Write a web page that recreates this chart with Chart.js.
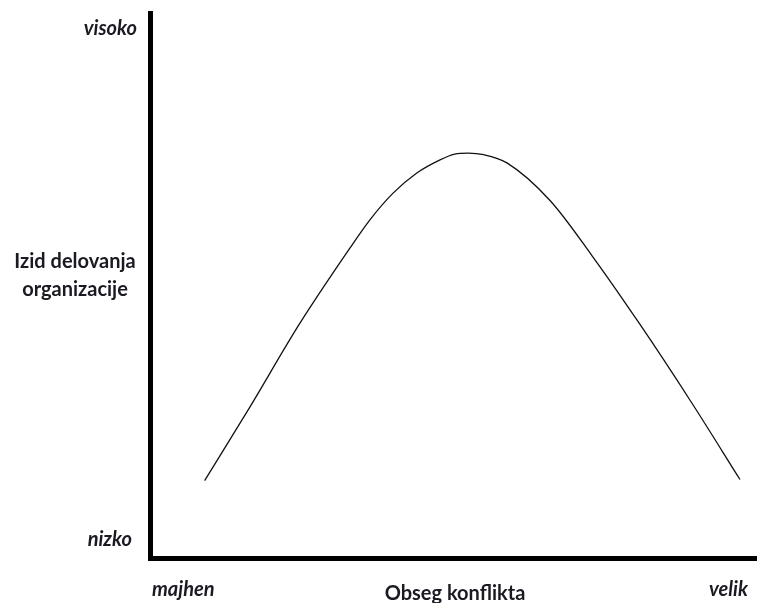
<!DOCTYPE html>
<html>
<head>
<meta charset="utf-8">
<script src="https://cdn.jsdelivr.net/npm/chart.js@4"></script>
<style>
  html, body { margin: 0; padding: 0; background: #fff; }
  #wrap { width: 757px; height: 603px; position: relative; }
</style>
</head>
<body>
<div id="wrap"><canvas id="conflictPlot"></canvas></div>
<script>
// curve (x: obseg konflikta 0-100, y: izid delovanja 0-100)
const conflictLevel = [9.0, 16.4, 24.6, 32.9, 36.2, 40.0, 43.9, 47.7, 50.2, 52.4, 55.0, 58.8, 65.9, 72.8, 80.7, 89.0, 97.2];
const performance = [14.2, 27.6, 42.9, 56.8, 62.0, 66.9, 70.6, 73.0, 74.1, 74.3, 74.0, 72.5, 65.6, 55.5, 42.9, 28.9, 14.4];

const yLabelTop = 'visoko';
const yLabelBottom = 'nizko';
const yTitle = ['Izid delovanja', 'organizacije'];
const xLabelLeft = 'majhen';
const xLabelRight = 'velik';
const xTitle = 'Obseg konflikta';

// labels are drawn by hand around the chart area
const axisLabels = {
    id: 'axisLabels',
    afterDraw(chart) {
        const ctx = chart.ctx;
        ctx.save();
        ctx.fillStyle = '#1a1a22';
        ctx.textBaseline = 'middle';

        ctx.font = 'italic bold 20px Lato';
        ctx.textAlign = 'right';
        ctx.fillText(yLabelTop, 137, 29);
        ctx.fillText(yLabelBottom, 132, 540);

        ctx.textAlign = 'left';
        ctx.fillText(xLabelLeft, 152, 590);
        ctx.textAlign = 'right';
        ctx.fillText(xLabelRight, 748, 590);

        ctx.font = 'bold 20px Lato';
        ctx.textAlign = 'center';
        ctx.fillText(yTitle[0], 75, 262);
        ctx.fillText(yTitle[1], 75, 290);
        ctx.fillText(xTitle, 455, 594);
        ctx.restore();
    }
};

document.addEventListener('DOMContentLoaded', function() {
    const plotCanvas = document.getElementById('conflictPlot');
    const plot_ctx = plotCanvas.getContext('2d');

    new Chart(plot_ctx, {
        type: 'scatter',
        data: {
            datasets: [
                {
                    data: conflictLevel.map((x, i) => ({ x: x, y: performance[i] })),
                    showLine: true,
                    borderColor: '#111',
                    borderWidth: 1.3,
                    pointRadius: 0,
                    cubicInterpolationMode: 'monotone'
                }
            ]
        },
        options: {
            responsive: true,
            maintainAspectRatio: false,
            animation: false,
            layout: {
                padding: { left: 150, top: 13, right: 0, bottom: 45 }
            },
            scales: {
                x: {
                    type: 'linear',
                    min: 0,
                    max: 100,
                    grid: { display: false, drawTicks: false },
                    ticks: { display: false },
                    border: { display: true, color: '#000', width: 5 }
                },
                y: {
                    min: 0,
                    max: 100,
                    grid: { display: false, drawTicks: false },
                    ticks: { display: false },
                    border: { display: true, color: '#000', width: 5 }
                }
            },
            plugins: {
                legend: { display: false },
                tooltip: { enabled: false }
            }
        },
        plugins: [axisLabels]
    });
});
</script>
</body>
</html>
